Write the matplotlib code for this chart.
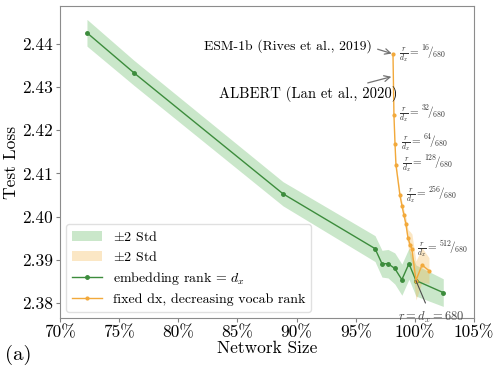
import matplotlib
matplotlib.use("Agg")
import matplotlib.pyplot as plt
import numpy as np
from matplotlib.ticker import FuncFormatter

plt.rcParams["font.family"] = ["cmr10", "DejaVu Serif"]
plt.rcParams["mathtext.fontset"] = "cm"
plt.rcParams["axes.formatter.use_mathtext"] = True

# embedding rank = d_x (network size in %, test loss, 2*std)
green_x = [72.28, 76.26, 88.85, 96.63, 97.22, 97.73, 98.30, 98.90, 99.50, 100.09, 102.40]
green_y = [2.4426, 2.4333, 2.4053, 2.3926, 2.3891, 2.3891, 2.3880, 2.3854, 2.3891, 2.3852, 2.3824]
green_s = [0.0031, 0.0029, 0.0028, 0.0030, 0.0031, 0.0033, 0.0036, 0.0036, 0.0036, 0.0036, 0.0032]

# fixed dx, decreasing vocab rank
orange_x = [98.15, 98.23, 98.32, 98.40, 98.74, 98.91, 99.08, 99.25, 99.42, 99.60, 99.75, 100.09, 100.60, 101.19]
orange_y = [2.4377, 2.4236, 2.4169, 2.4120, 2.4049, 2.4025, 2.4003, 2.3982, 2.3950, 2.3935, 2.3925, 2.3852, 2.3888, 2.3875]
orange_s = [0.0003, 0.0004, 0.0005, 0.0006, 0.0008, 0.0010, 0.0012, 0.0015, 0.0020, 0.0030, 0.0035, 0.0045, 0.0040, 0.0030]

# ratio labels r/d_x attached to orange points (index into orange arrays)
ratio_idx = [0, 1, 2, 3, 4, 10]
ratio_num = [16, 32, 64, 128, 256, 512]

GREEN = "#3c8c3c"
ORANGE = "#f2a93b"

fig = plt.figure(figsize=(4.93, 3.69), dpi=100)
ax = fig.add_axes([0.1217, 0.138, 0.8398, 0.8457])

gx, gy, gs = map(np.array, (green_x, green_y, green_s))
ox, oy, os_ = map(np.array, (orange_x, orange_y, orange_s))

ax.fill_between(gx, gy - gs, gy + gs, color="#2ca02c", alpha=0.25, lw=0, label=r"$\pm$2 Std")
ax.fill_between(ox, oy - os_, oy + os_, color="#f5b041", alpha=0.3, lw=0, label=r"$\pm$2 Std")
ax.plot(gx, gy, color=GREEN, lw=1.0, marker="o", ms=2.5, label=r"embedding rank = $d_x$")
ax.plot(ox, oy, color=ORANGE, lw=1.0, marker="o", ms=2.0, label="fixed dx, decreasing vocab rank")

for i, n in zip(ratio_idx, ratio_num):
    ax.annotate(r"$\frac{r}{d_x} = {}^{%d}\!/\!_{680}$" % n, xy=(ox[i], oy[i]),
                xytext=(4, 0), textcoords="offset points", fontsize=8,
                ha="left", va="center", color="0.2")

ax.annotate("ESM-1b (Rives et al., 2019)", xy=(ox[0], oy[0]), xytext=(82.2, 2.4395),
            fontsize=9.9, ha="left", va="center",
            arrowprops=dict(arrowstyle="->", color="0.45", lw=0.9, shrinkA=2, shrinkB=1,
                            relpos=(1.0, 0.4)))
ax.annotate("ALBERT (Lan et al., 2020)", xy=(98.12, 2.4325), xytext=(83.4, 2.4284),
            fontsize=10.5, ha="left", va="center",
            arrowprops=dict(arrowstyle="->", color="0.45", lw=0.9, shrinkA=1, shrinkB=1,
                            relpos=(0.77, 1.0)))
ax.annotate(r"$r = d_x = 680$", xy=(gx[9], gy[9]), xytext=(101.4, 2.3767),
            fontsize=9, ha="center", va="center", color="0.3",
            arrowprops=dict(arrowstyle="-", color="0.3", lw=0.8, shrinkA=3, shrinkB=0))

ax.set_xlim(70, 105)
ax.set_ylim(2.3765, 2.4488)
ax.set_xticks([70, 75, 80, 85, 90, 95, 100, 105])
ax.set_yticks([2.38, 2.39, 2.40, 2.41, 2.42, 2.43, 2.44])
ax.xaxis.set_major_formatter(FuncFormatter(lambda v, p: f"{int(round(v))}%"))
ax.yaxis.set_major_formatter(FuncFormatter(lambda v, p: f"{v:.2f}"))
ax.tick_params(labelsize=12.5, length=3, color="0.5", pad=2)
for sp in ax.spines.values():
    sp.set_color("0.55")
ax.set_xlabel("Network Size", fontsize=12.5, labelpad=0)
ax.set_ylabel("Test Loss", fontsize=12.5, labelpad=2)

ax.legend(loc="lower left", fontsize=10, frameon=True, edgecolor="0.85",
          handlelength=2.15, handletextpad=0.8, borderaxespad=0.45, labelspacing=0.45)

fig.text(0.01, 0.01, "(a)", fontsize=15, ha="left", va="bottom")

fig.savefig("out.png", dpi=100)
